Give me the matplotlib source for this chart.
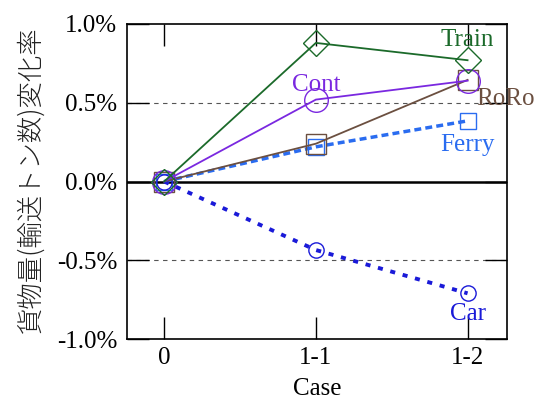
import matplotlib
matplotlib.use("Agg")
import matplotlib.pyplot as plt
from matplotlib.ticker import FuncFormatter

cases = ["0", "1-1", "1-2"]
train = [0.0, 0.88, 0.77]
cont = [0.0, 0.52, 0.64]
roro = [0.0, 0.24, 0.645]
ferry = [0.0, 0.22, 0.385]
car = [0.0, -0.435, -0.71]
yticks = [-1.0, -0.5, 0.0, 0.5, 1.0]

serif = "Liberation Serif"
fig = plt.figure(figsize=(5.41, 3.99), dpi=100)
ax = fig.add_axes([127/541, 1-339/399, (507-127)/541, (339-24)/399])

x = list(range(len(cases)))
c_train = "#1b6a2a"
c_cont = "#7a28e0"
c_roro = "#6b4f40"
c_ferry = "#2a6cf0"
c_car = "#1a1ad8"

ax.axhline(0, color="black", lw=1.8, zorder=1)
for v in (-0.5, 0.5):
    ax.axhline(v, color="#555555", lw=0.8, ls=(0, (4, 4)), zorder=1)

ax.plot(x, ferry, color=c_ferry, lw=2.5, ls=(0, (2.0, 1.2)), marker="s", ms=11,
        mfc="none", mec=c_ferry, mew=1.0, zorder=3)
ax.plot(x, car, color=c_car, lw=2.8, ls=(0, (1.3, 2.0)), marker="o", ms=11,
        mfc="none", mec=c_car, mew=1.0, zorder=3)
ax.plot(x, roro, color=c_roro, lw=1.3, marker="s", ms=14, mfc="none", mec=c_roro,
        mew=1.0, zorder=4)
ax.plot(x, cont, color=c_cont, lw=1.3, marker="o", ms=17, mfc="none", mec=c_cont,
        mew=1.0, zorder=4)
ax.plot(x, train, color=c_train, lw=1.3, marker="D", ms=13, mfc="none", mec=c_train,
        mew=1.0, zorder=5)

fs = 18
ax.text(2.0, 0.9, "Train", color=c_train, fontsize=fs, family=serif, ha="center", va="center")
ax.text(1.0, 0.61, "Cont", color=c_cont, fontsize=fs, family=serif, ha="center", va="center")
ax.text(2.25, 0.525, "RoRo", color=c_roro, fontsize=fs, family=serif, ha="center", va="center")
ax.text(2.0, 0.23, "Ferry", color=c_ferry, fontsize=fs, family=serif, ha="center", va="center")
ax.text(2.0, -0.84, "Car", color=c_car, fontsize=fs, family=serif, ha="center", va="center")

ax.set_xlim(-0.245, 2.26)
ax.set_ylim(-1.0, 1.0)
ax.set_xticks(x)
ax.set_xticklabels(cases)
ax.set_yticks(yticks)
ax.yaxis.set_major_formatter(FuncFormatter(lambda v, p: f"{v:.1f}%"))
ax.tick_params(direction="in", length=16, width=1.0, top=True, right=True,
               labelsize=fs, pad=7)
ax.tick_params(axis="x", pad=6)
for lab in ax.get_xticklabels() + ax.get_yticklabels():
    lab.set_family(serif)
for s in ax.spines.values():
    s.set_linewidth(1.2)

ax.set_xlabel("Case", fontsize=fs, family=serif, labelpad=6)
fig.text(31/541, 1-180/399, "貨物量(輸送トン数)変化率", rotation=90, ha="center", va="center",
         fontsize=19, family=["Noto Sans CJK JP", "DejaVu Sans"], fontweight="light", color="#222222")

fig.savefig("out.png", dpi=100)
